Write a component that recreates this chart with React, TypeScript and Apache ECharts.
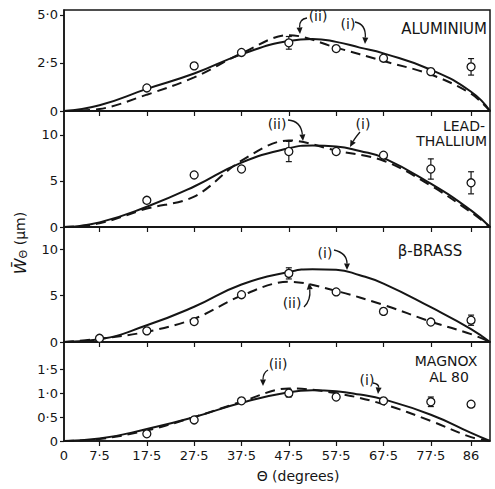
import React, { useEffect, useRef } from "react";
import * as echarts from "echarts";

// ---------- data ----------
const xTicks = [7.5, 17.5, 27.5, 37.5, 47.5, 57.5, 67.5, 77.5, 86];
const xLabelValues = [0, 7.5, 17.5, 27.5, 37.5, 47.5, 57.5, 67.5, 77.5, 86];

// Aluminium
const alSolid = [[0, 0], [7.5, 0.3], [17.5, 1.15], [27.5, 1.95], [37.5, 2.95], [47.5, 3.65], [52.5, 3.75], [57.5, 3.6], [62.5, 3.3], [67.5, 3.0], [77.5, 2.15], [86, 1.0], [90, 0]];
const alDashed = [[0, 0], [7.5, 0.1], [17.5, 0.85], [27.5, 1.75], [37.5, 3.0], [47.5, 3.95], [57.5, 3.3], [67.5, 2.6], [77.5, 1.9], [86, 0.9], [90, 0]];
const alPoints = [[17.5, 1.2], [27.5, 2.35], [37.5, 3.05], [47.5, 3.55], [57.5, 3.25], [67.5, 2.75], [77.5, 2.05], [86, 2.3]];
const alErrors = [[47.5, 3.55, 0.33], [86, 2.3, 0.43]];
const alTicks = [0, 2.5, 5];

// Lead-Thallium
const ptSolid = [[0, 0], [7.5, 0.5], [17.5, 2.2], [27.5, 4.4], [37.5, 7.0], [47.5, 8.55], [52.5, 8.85], [57.5, 8.75], [62.5, 8.25], [67.5, 7.5], [77.5, 4.7], [86, 1.8], [90, 0]];
const ptDashed = [[0, 0], [7.5, 0.4], [17.5, 2.0], [27.5, 3.3], [37.5, 7.2], [47.5, 9.4], [57.5, 8.3], [67.5, 7.2], [77.5, 4.5], [86, 1.6], [90, 0]];
const ptPoints = [[17.5, 2.9], [27.5, 5.65], [37.5, 6.3], [47.5, 8.2], [57.5, 8.2], [67.5, 7.8], [77.5, 6.3], [86, 4.8]];
const ptErrors = [[47.5, 8.2, 1.1], [77.5, 6.3, 1.1], [86, 4.8, 1.2]];
const ptTicks = [0, 5, 10];

// beta-brass
const bbSolid = [[0, 0], [7.5, 0.3], [17.5, 1.8], [27.5, 3.8], [37.5, 6.2], [47.5, 7.55], [52.5, 7.85], [57.5, 7.8], [62.5, 7.2], [67.5, 6.3], [77.5, 3.75], [86, 1.4], [90, 0]];
const bbDashed = [[0, 0], [7.5, 0.35], [17.5, 1.1], [27.5, 2.5], [37.5, 5.0], [47.5, 6.5], [57.5, 5.5], [67.5, 4.0], [77.5, 2.2], [86, 0.85], [90, 0]];
const bbPoints = [[7.5, 0.4], [17.5, 1.2], [27.5, 2.2], [37.5, 5.1], [47.5, 7.4], [57.5, 5.4], [67.5, 3.3], [77.5, 2.15], [86, 2.35]];
const bbErrors = [[47.5, 7.4, 0.6], [86, 2.35, 0.55]];
const bbTicks = [0, 5, 10];

// Magnox AL 80
const mgSolid = [[0, 0], [7.5, 0.05], [17.5, 0.25], [27.5, 0.5], [37.5, 0.8], [47.5, 1.02], [52.5, 1.06], [57.5, 1.04], [62.5, 0.97], [67.5, 0.87], [77.5, 0.55], [86, 0.17], [90, 0]];
const mgDashed = [[0, 0], [7.5, 0.04], [17.5, 0.22], [27.5, 0.5], [37.5, 0.82], [47.5, 1.1], [57.5, 1.0], [67.5, 0.77], [77.5, 0.42], [86, 0.08], [90, 0]];
const mgPoints = [[17.5, 0.15], [27.5, 0.44], [37.5, 0.84], [47.5, 1.0], [57.5, 0.92], [67.5, 0.84], [77.5, 0.82], [86, 0.77]];
const mgErrors = [[47.5, 1.0, 0.08], [77.5, 0.82, 0.1]];
const mgTicks = [0, 0.5, 1, 1.5];

// ---------- layout ----------
const GRID_LEFT = 64;
const GRID_RIGHT = 5;
const tops = [10, 111, 227, 342];
const heights = [101, 116, 115, 99];
const yMax = [5.26, 12.6, 12.4, 2.07];
const FONT = "DejaVu Sans";
const INK = "#151515";

const panels = [
  { solid: alSolid, dashed: alDashed, pts: alPoints, err: alErrors, ticks: alTicks, dec: 1 },
  { solid: ptSolid, dashed: ptDashed, pts: ptPoints, err: ptErrors, ticks: ptTicks, dec: 0 },
  { solid: bbSolid, dashed: bbDashed, pts: bbPoints, err: bbErrors, ticks: bbTicks, dec: 0 },
  { solid: mgSolid, dashed: mgDashed, pts: mgPoints, err: mgErrors, ticks: mgTicks, dec: 1 },
];

function fmt(v: number, dec: number) {
  if (v === 0) return "0";
  return v.toFixed(dec).replace(".", "·");
}

function arrow(x1: number, y1: number, cx: number, cy: number, x2: number, y2: number) {
  const ang = Math.atan2(y2 - cy, x2 - cx);
  const L = 6.5, W = 3;
  const bx = x2 - L * Math.cos(ang), by = y2 - L * Math.sin(ang);
  const px = -Math.sin(ang) * W, py = Math.cos(ang) * W;
  return [
    { type: "bezierCurve", shape: { x1, y1, x2: bx, y2: by, cpx1: cx, cpy1: cy }, style: { stroke: INK, lineWidth: 1.3, fill: null }, z: 100 },
    { type: "polygon", shape: { points: [[x2, y2], [bx + px, by + py], [bx - px, by - py]] }, style: { fill: INK }, z: 100 },
  ];
}

function label(text: string, x: number, y: number, size = 14, align = "center") {
  return {
    type: "text", x, y, z: 100,
    style: { text, fill: INK, font: `${size}px "${FONT}"`, align, verticalAlign: "middle", lineHeight: size },
  };
}

export default function App() {
  const ref = useRef<HTMLDivElement>(null);
  useEffect(() => {
    document.body.style.margin = "0";
    const chart = echarts.init(ref.current!, null, { renderer: "svg" });

    const grid: any[] = [];
    const xAxis: any[] = [];
    const yAxis: any[] = [];
    const series: any[] = [];

    panels.forEach((p, i) => {
      grid.push({ left: GRID_LEFT, right: GRID_RIGHT, top: tops[i], height: heights[i], show: true, borderColor: INK, borderWidth: 1.5, backgroundColor: "transparent" });
      xAxis.push({
        type: "value", gridIndex: i, min: 0, max: 90,
        axisLine: { show: true, lineStyle: { color: INK, width: 1.5 } },
        axisTick: { show: true, customValues: xTicks, length: 5, lineStyle: { color: INK, width: 1.2 } },
        axisLabel: {
          show: i === 3, customValues: xLabelValues, margin: 8,
          formatter: (v: number) => (v === 0 ? "0" : String(v).replace(".", "·")),
          color: INK, fontFamily: FONT, fontSize: 13,
        },
        splitLine: { show: false },
      });
      yAxis.push({
        type: "value", gridIndex: i, min: 0, max: yMax[i],
        axisLine: { show: true, lineStyle: { color: INK, width: 1.5 } },
        axisTick: { show: true, customValues: p.ticks, length: 4, lineStyle: { color: INK, width: 1.2 } },
        axisLabel: {
          customValues: p.ticks, margin: 6,
          formatter: (v: number) => fmt(v, p.dec),
          color: INK, fontFamily: FONT, fontSize: 13,
        },
        splitLine: { show: false },
      });
      series.push({
        type: "line", xAxisIndex: i, yAxisIndex: i, data: p.solid, smooth: 0.5,
        showSymbol: false, lineStyle: { color: INK, width: 2 }, z: 3,
      });
      series.push({
        type: "line", xAxisIndex: i, yAxisIndex: i, data: p.dashed, smooth: 0.35,
        showSymbol: false, lineStyle: { color: INK, width: 2, type: [10, 6] }, z: 3,
      });
      series.push({
        type: "custom", xAxisIndex: i, yAxisIndex: i, data: p.err, z: 4,
        encode: { x: 0, y: 1 },
        renderItem: (_params: any, api: any) => {
          const x = api.value(0), y = api.value(1), e = api.value(2);
          const a = api.coord([x, y + e]);
          const b = api.coord([x, y - e]);
          const st = { stroke: INK, lineWidth: 1.2 };
          return {
            type: "group",
            children: [
              { type: "line", shape: { x1: a[0], y1: a[1], x2: b[0], y2: b[1] }, style: st },
              { type: "line", shape: { x1: a[0] - 3, y1: a[1], x2: a[0] + 3, y2: a[1] }, style: st },
              { type: "line", shape: { x1: b[0] - 3, y1: b[1], x2: b[0] + 3, y2: b[1] }, style: st },
            ],
          };
        },
      });
      series.push({
        type: "scatter", xAxisIndex: i, yAxisIndex: i, data: p.pts, symbol: "circle", symbolSize: 8,
        itemStyle: { color: "#fff", borderColor: INK, borderWidth: 1.3, opacity: 1 }, z: 5,
      });
    });

    const graphic: any[] = [
      // panel names
      label("ALUMINIUM", 487, 29, 15, "right"),
      label("LEAD-", 485, 126, 14, "right"),
      label("THALLIUM", 487, 141, 14, "right"),
      label("β-BRASS", 430, 251, 15, "center"),
      label("MAGNOX", 446, 361, 14, "center"),
      label("AL 80", 449, 377, 14, "center"),
      // curve annotations
      label("(ii)", 318, 16), ...arrow(307, 18, 299, 19, 300, 34),
      label("(i)", 348, 24), ...arrow(355, 22, 366, 24, 365, 44),
      label("(ii)", 277, 124), ...arrow(288, 120, 301, 121, 303, 141),
      label("(i)", 363, 124), ...arrow(360, 132, 355, 138, 350, 147),
      label("(i)", 325, 253), ...arrow(334, 250, 347, 253, 347, 270),
      label("(ii)", 292, 303), ...arrow(304, 307, 311, 300, 309, 283),
      label("(ii)", 278, 364), ...arrow(268, 370, 263, 373, 263, 386),
      label("(i)", 367, 380), ...arrow(373, 383, 379, 384, 378, 394),
      // axis titles
      label("Θ (degrees)", 298, 476, 14),
      {
        type: "text", x: 20, y: 243, rotation: Math.PI / 2, z: 100,
        style: {
          text: "{w|W\u0304}{s|Θ} (μm)",
          fill: INK, font: `14px "${FONT}"`, align: "center", verticalAlign: "middle",
          rich: {
            w: { fontStyle: "italic", fontSize: 16, fontFamily: FONT, fill: INK },
            s: { fontSize: 11, fontFamily: FONT, fill: INK, verticalAlign: "bottom", padding: [6, 0, 0, 0] },
          },
        },
      },
    ];

    chart.setOption({
      animation: false,
      backgroundColor: "#fff",
      grid, xAxis, yAxis, series, graphic,
    });
    return () => chart.dispose();
  }, []);
  return <div ref={ref} style={{ width: 495, height: 489 }} />;
}
